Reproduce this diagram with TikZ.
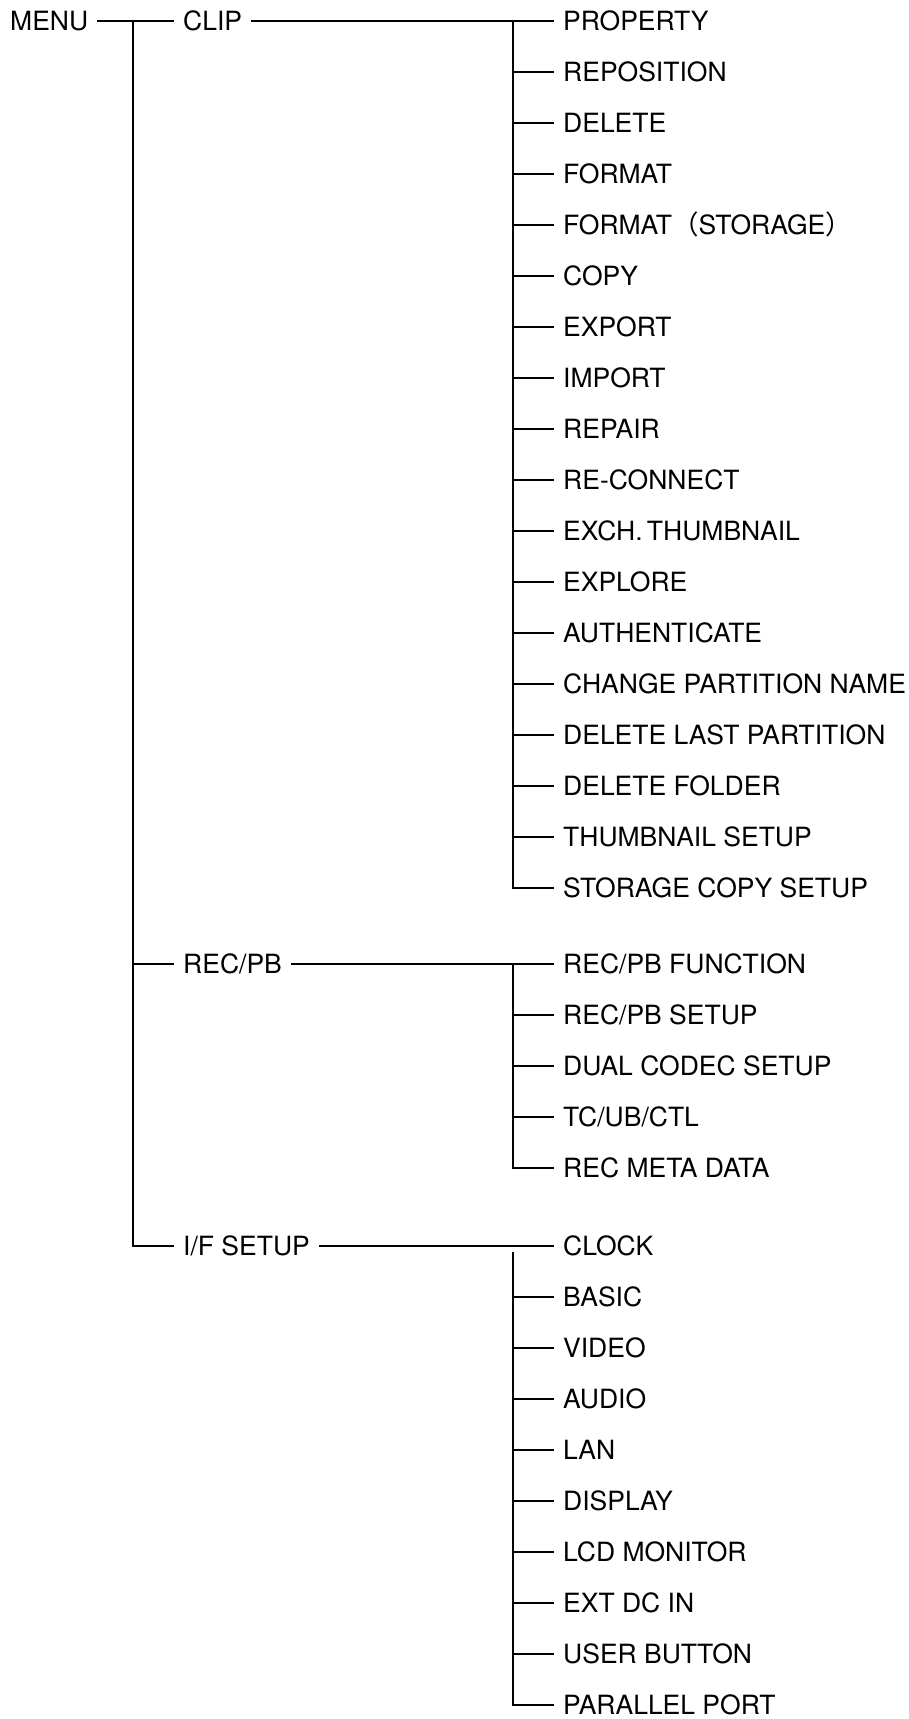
\documentclass[tikz,border=0pt]{standalone}
\usepackage{fontspec}
\setmainfont{TeX Gyre Heros}
\newfontfamily\cjk{Noto Sans CJK JP}

\begin{document}
\begin{tikzpicture}[x=1pt, y=-1pt, line width=2.4pt,
    item/.style={anchor=west, inner xsep=8pt, inner ysep=0pt, text height=19pt, text depth=0pt,
        font=\fontsize{26.5}{31}\selectfont}]
    \useasboundingbox (0,0) rectangle (909,1719);
    % first level
    \node[item] (menu) at (1,21) {MENU};
    \node[item] (clip) at (174,21) {CLIP};
    \node[item] (recpb) at (174,964) {REC/PB};
    \node[item] (ifsetup) at (174,1246) {I/F SETUP};
    \coordinate (trunk) at (133,21);
    \draw (menu.east) -- (clip.west);
    \draw (trunk) |- (ifsetup.west);
    \draw (trunk |- recpb) -- (recpb.west);
    % CLIP
    \coordinate (clipbar) at (513,21);
    \foreach \lab [count=\i from 0] in {PROPERTY, REPOSITION, DELETE, FORMAT, {FORMAT{\cjk （}STORAGE{\cjk ）}}, COPY, EXPORT, IMPORT, REPAIR, RE-CONNECT, EXCH.\,THUMBNAIL, EXPLORE, AUTHENTICATE, CHANGE PARTITION NAME, DELETE LAST PARTITION, DELETE FOLDER, THUMBNAIL SETUP, STORAGE COPY SETUP} {
        \node[item] (clip\i) at (554,{21+51*\i}) {\lab};
        \draw (clipbar |- clip\i) -- (clip\i.west);
    }
    \draw (clip.east) -- (clip0.west);
    \draw (clipbar) |- (clip17.west);
    % REC/PB
    \coordinate (recbar) at (513,964);
    \foreach \lab [count=\i from 0] in {REC/PB FUNCTION, REC/PB SETUP, DUAL CODEC SETUP, TC/UB/CTL, REC META DATA} {
        \node[item] (rec\i) at (554,{964+51*\i}) {\lab};
        \draw (recbar |- rec\i) -- (rec\i.west);
    }
    \draw (recpb.east) -- (rec0.west);
    \draw (recbar) |- (rec4.west);
    % I/F SETUP
    \coordinate (ifbar) at (513,1252);
    \foreach \lab [count=\i from 0] in {CLOCK, BASIC, VIDEO, AUDIO, LAN, DISPLAY, LCD MONITOR, EXT DC IN, USER BUTTON, PARALLEL PORT} {
        \node[item] (if\i) at (554,{1246+51*\i}) {\lab};
    }
    \foreach \i in {1,...,8} {
        \draw (ifbar |- if\i) -- (if\i.west);
    }
    \draw (ifsetup.east) -- (if0.west);
    \draw (ifbar) |- (if9.west);
\end{tikzpicture}
\end{document}
